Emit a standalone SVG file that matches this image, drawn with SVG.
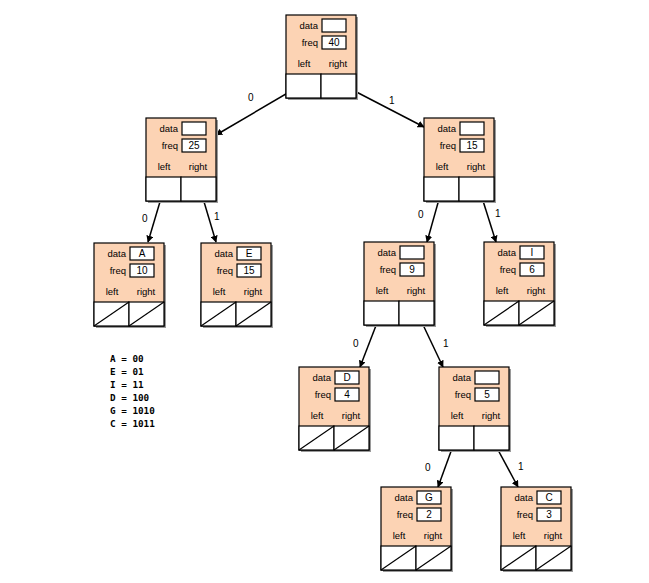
<svg xmlns="http://www.w3.org/2000/svg" width="649" height="583" viewBox="0 0 649 583">
<style>
.bg{fill:#fcd3b4;stroke:#000;stroke-width:1.2}
.sh{fill:#9a9a9a}
.wb{fill:#fff;stroke:#000;stroke-width:1.2}
.t{font-family:"Liberation Sans",Arial,sans-serif;font-size:9.5px;fill:#000}
.m{text-anchor:middle}
.v{font-family:"Liberation Sans",Arial,sans-serif;font-size:10px;fill:#000;text-anchor:middle}
.d{stroke:#000;stroke-width:1.2}
.c{stroke:#000;stroke-width:1.5;fill:none;marker-end:url(#ah)}
.lb{font-family:"Liberation Sans",Arial,sans-serif;font-size:10px;fill:#000}
.code{font-family:"DejaVu Sans Mono",monospace;font-size:9.3px;font-weight:bold;fill:#000;white-space:pre}
</style>
<defs>
<marker id="ah" viewBox="0 0 10 10" refX="9" refY="5" markerWidth="7" markerHeight="7" markerUnits="userSpaceOnUse" orient="auto">
<path d="M0,0 L10,5 L0,10 z" fill="#000"/>
</marker>
<g id="nodebase">
<rect class="sh" x="2" y="2" width="70" height="83"/>
<rect class="bg" x="0" y="0" width="70" height="83"/>
<rect class="wb" x="36" y="4" width="24" height="13"/>
<rect class="wb" x="36" y="21" width="24" height="13"/>
<text class="t" x="32" y="14" text-anchor="end">data</text>
<text class="t" x="32" y="31" text-anchor="end">freq</text>
<text class="t m" x="18" y="52">left</text>
<text class="t m" x="52" y="52">right</text>
<rect class="wb" x="0" y="59" width="35" height="24"/>
<rect class="wb" x="35" y="59" width="35" height="24"/>
</g>
<g id="leafx">
<line class="d" x1="0" y1="83" x2="35" y2="59"/>
<line class="d" x1="35" y1="83" x2="70" y2="59"/>
</g>
</defs>

<g id="connectors">
<line class="c" x1="303" y1="84" x2="216" y2="135"/>
<line class="c" x1="341" y1="84" x2="424" y2="127"/>
<line class="c" x1="165" y1="185" x2="148" y2="242"/>
<line class="c" x1="199" y1="185" x2="216" y2="242"/>
<line class="c" x1="443" y1="185" x2="427" y2="242"/>
<line class="c" x1="478" y1="185" x2="496" y2="242"/>
<line class="c" x1="382" y1="310" x2="360" y2="367"/>
<line class="c" x1="416" y1="310" x2="443" y2="367"/>
<line class="c" x1="457" y1="435" x2="438" y2="487"/>
<line class="c" x1="490" y1="435" x2="518" y2="487"/>
<text class="lb" x="248" y="101">0</text>
<text class="lb" x="389" y="104">1</text>
<text class="lb" x="142" y="222">0</text>
<text class="lb" x="214" y="220">1</text>
<text class="lb" x="418" y="218">0</text>
<text class="lb" x="495" y="217">1</text>
<text class="lb" x="353" y="347">0</text>
<text class="lb" x="443" y="347">1</text>
<text class="lb" x="425" y="471">0</text>
<text class="lb" x="518" y="470">1</text>
</g>

<g id="n40" transform="translate(286,15)"><use href="#nodebase"/><text class="v" x="48" y="31">40</text></g>
<g id="n25" transform="translate(146,118)"><use href="#nodebase"/><text class="v" x="48" y="31">25</text></g>
<g id="n15" transform="translate(424,118)"><use href="#nodebase"/><text class="v" x="48" y="31">15</text></g>
<g id="nA" transform="translate(94,243)"><use href="#nodebase"/><use href="#leafx"/><text class="v" x="48" y="14">A</text><text class="v" x="48" y="31">10</text></g>
<g id="nE" transform="translate(201,243)"><use href="#nodebase"/><use href="#leafx"/><text class="v" x="48" y="14">E</text><text class="v" x="48" y="31">15</text></g>
<g id="n9" transform="translate(364,242)"><use href="#nodebase"/><text class="v" x="48" y="31">9</text></g>
<g id="nI" transform="translate(484,242)"><use href="#nodebase"/><use href="#leafx"/><text class="v" x="48" y="14">I</text><text class="v" x="48" y="31">6</text></g>
<g id="nD" transform="translate(299,367)"><use href="#nodebase"/><use href="#leafx"/><text class="v" x="48" y="14">D</text><text class="v" x="48" y="31">4</text></g>
<g id="n5" transform="translate(439,367)"><use href="#nodebase"/><text class="v" x="48" y="31">5</text></g>
<g id="nG" transform="translate(381,487)"><use href="#nodebase"/><use href="#leafx"/><text class="v" x="48" y="14">G</text><text class="v" x="48" y="31">2</text></g>
<g id="nC" transform="translate(501,487)"><use href="#nodebase"/><use href="#leafx"/><text class="v" x="48" y="14">C</text><text class="v" x="48" y="31">3</text></g>

<g id="codes">
<text class="code" x="110" y="362">A = 00</text>
<text class="code" x="110" y="375">E = 01</text>
<text class="code" x="110" y="388">I = 11</text>
<text class="code" x="110" y="401">D = 100</text>
<text class="code" x="110" y="414">G = 1010</text>
<text class="code" x="110" y="427">C = 1011</text>
</g>
</svg>
